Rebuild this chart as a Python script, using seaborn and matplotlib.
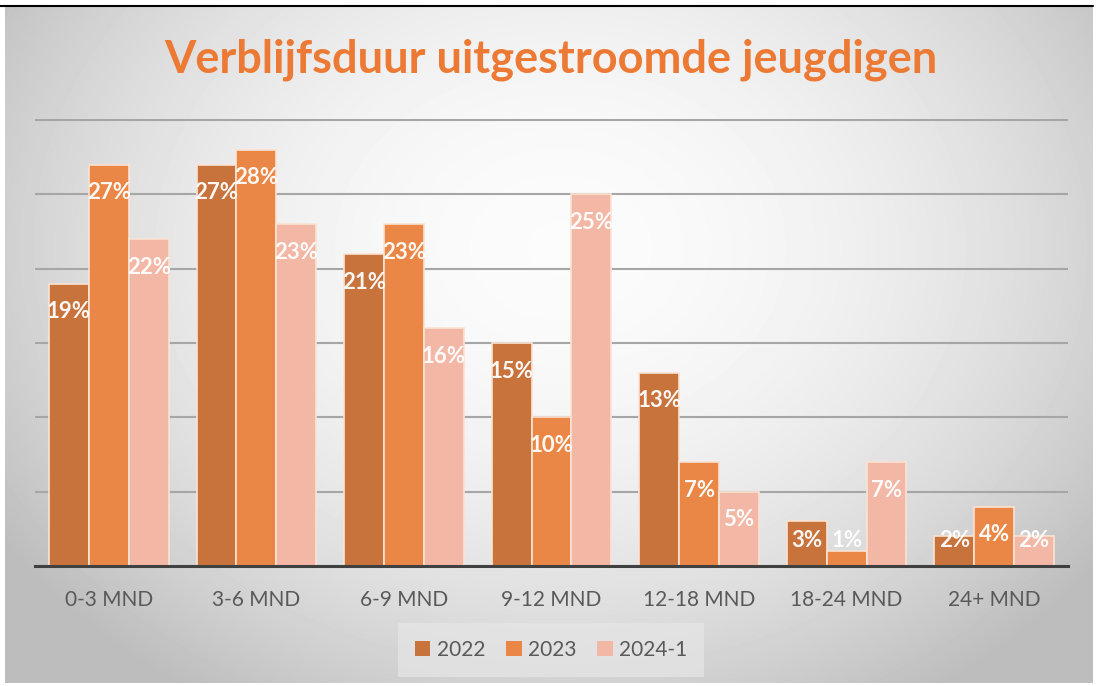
import numpy as np
import pandas as pd
import matplotlib
matplotlib.use("Agg")
import matplotlib.pyplot as plt
from matplotlib.lines import Line2D
import seaborn as sns

# gegevens
categorieen = ["0-3 MND", "3-6 MND", "6-9 MND", "9-12 MND", "12-18 MND", "18-24 MND", "24+ MND"]
jaren = ["2022", "2023", "2024-1"]
waarden_2022 = [19, 27, 21, 15, 13, 3, 2]
waarden_2023 = [27, 28, 23, 10, 7, 1, 4]
waarden_2024 = [22, 23, 16, 25, 5, 7, 2]
kleuren = ["#C8733C", "#EB8746", "#F2B7A5"]

reeksen = [waarden_2022, waarden_2023, waarden_2024]
df = pd.DataFrame({
    "categorie": categorieen * len(jaren),
    "jaar": [j for j in jaren for _ in categorieen],
    "waarde": waarden_2022 + waarden_2023 + waarden_2024,
})

sns.set_theme(style="white")
plt.rcParams['font.family'] = ['Lato', 'DejaVu Sans']

W, H = 1097, 686
fig = plt.figure(figsize=(W / 100, H / 100), dpi=100)
fig.patch.set_facecolor('white')

# achtergrond met radiaal verloop
bw, bh = 1088, 676
bg = fig.add_axes([5 / W, 3 / H, bw / W, bh / H], zorder=-10)
yy, xx = np.mgrid[0:bh, 0:bw]
d2 = ((xx - 555) / 700) ** 2 + ((yy - 240) / 560) ** 2
grad = np.clip(0.985 - 0.27 * d2, 0.74, 1)
bg.imshow(grad, cmap='gray', vmin=0, vmax=1, aspect='auto', interpolation='bilinear')
bg.axis('off')

fig.add_artist(Line2D([0, 1093 / W], [1 - 6 / H] * 2, color='black', lw=1.5,
                      transform=fig.transFigure))

# grafiek
px_per = (566 - 120) / 30
top = 566 - 30.1 * px_per
ax = fig.add_axes([35 / W, (H - 566) / H, 1033 / W, (566 - top) / H])
ax.set_facecolor('none')

sns.barplot(data=df, x="categorie", y="waarde", hue="jaar", palette=kleuren,
            width=0.81, edgecolor="#FBE3D3", linewidth=1.2, saturation=1,
            errorbar=None, ax=ax, zorder=3)

ax.set_xlim(-0.5, 6.5)
ax.set_ylim(0, 30.1)
ax.set_yticks(range(0, 31, 5))
ax.yaxis.grid(True, color='#A6A6A6', lw=1.5)
ax.set_axisbelow(True)
ax.tick_params(axis='y', left=False, labelleft=False)
ax.tick_params(axis='x', bottom=False, labelsize=15, labelcolor='#595959', pad=11)
ax.set_xlabel('')
ax.set_ylabel('')
for s in ['top', 'left', 'right']:
    ax.spines[s].set_visible(False)
ax.spines['bottom'].set_color('#404040')
ax.spines['bottom'].set_linewidth(2.2)
ax.spines['bottom'].set_zorder(4)

# labels in de staven
for cont, waarden in zip(ax.containers, reeksen):
    for bar, v in zip(cont, waarden):
        x = bar.get_x() + bar.get_width() / 2
        ax.text(x, max(v - 1.9, 1.7), f"{v}%", ha='center', va='center',
                color='white', fontsize=16, fontweight='bold', zorder=5, alpha=0.95)

handles, labels = ax.get_legend_handles_labels()
for h in handles:
    h.set_edgecolor('none')
ax.legend(handles, labels, loc='center', bbox_to_anchor=(551 / W, 1 - 650 / H),
          bbox_transform=fig.transFigure, ncol=3, frameon=True, facecolor='#E6E6E6',
          edgecolor='none', fancybox=False, framealpha=0.7, fontsize=15,
          handlelength=0.75, handleheight=0.75, handletextpad=0.3,
          columnspacing=1.0, borderpad=0.8, labelcolor='#595959')

fig.text(551 / W, 1 - 60 / H, "Verblijfsduur uitgestroomde jeugdigen", ha='center',
         va='center', fontsize=32.5, fontweight='bold', color='#EC7A34')

fig.savefig('out.png', dpi=100)
